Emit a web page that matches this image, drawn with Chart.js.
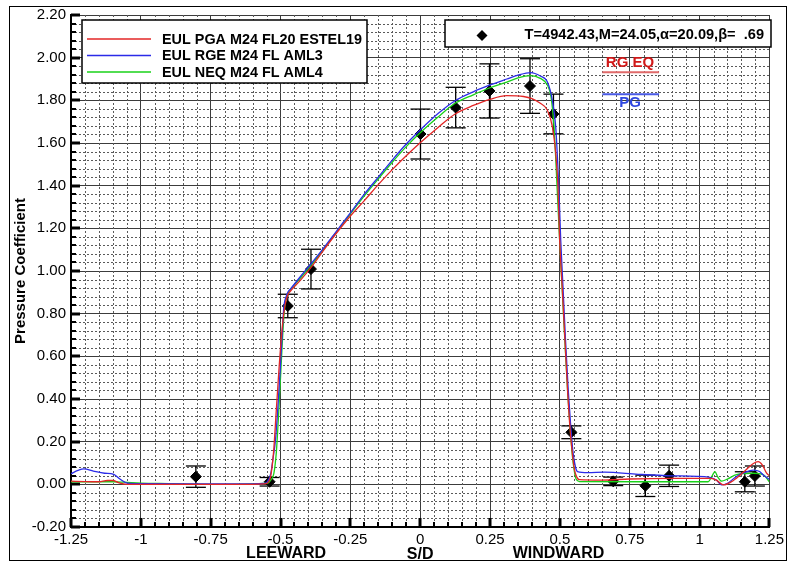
<!DOCTYPE html>
<html>
<head>
<meta charset="utf-8">
<script src="https://cdn.jsdelivr.net/npm/chart.js@4.4.1/dist/chart.umd.min.js"></script>
<style>
html, body { margin: 0; padding: 0; background: #fff; }
#wrap { position: relative; width: 788px; height: 567px; }
</style>
</head>
<body>
<div id="wrap"><canvas id="cpChart"></canvas></div>
<script>
// 计算曲线 (S/D, Cp)
const pgaX = [-1.25,-1.2,-1.15,-1.12,-1.1,-1.08,-1.05,-1.0,-0.9,-0.8,-0.7,-0.6,-0.56,-0.545,-0.535,-0.525,-0.515,-0.505,-0.495,-0.485,-0.475,-0.465,-0.43,-0.39,-0.35,-0.3,-0.25,-0.2,-0.15,-0.1,-0.05,0,0.065,0.125,0.19,0.25,0.31,0.37,0.4,0.43,0.455,0.473,0.485,0.493,0.499,0.508,0.518,0.528,0.537,0.545,0.552,0.56,0.57,0.65,0.75,0.9,1.04,1.06,1.085,1.12,1.16,1.19,1.21,1.225,1.24,1.25];
const pgaY = [0.015,0.013,0.012,0.018,0.018,0.008,0.0,0.0,0.0,0.0,0.0,0.0,0.002,0.008,0.04,0.15,0.35,0.55,0.72,0.83,0.885,0.905,0.955,1.018,1.09,1.177,1.258,1.33,1.405,1.475,1.54,1.601,1.674,1.736,1.776,1.805,1.822,1.818,1.808,1.786,1.755,1.677,1.552,1.40,1.15,0.93,0.68,0.43,0.25,0.14,0.07,0.035,0.022,0.02,0.025,0.028,0.028,0.02,-0.003,0.017,0.06,0.095,0.106,0.09,0.052,0.04];

const rgeX = [-1.25,-1.225,-1.204,-1.17,-1.13,-1.097,-1.075,-1.047,-1.0,-0.8,-0.6,-0.56,-0.548,-0.535,-0.527,-0.518,-0.51,-0.502,-0.495,-0.488,-0.48,-0.473,-0.465,-0.43,-0.39,-0.35,-0.3,-0.25,-0.2,-0.15,-0.1,-0.05,0,0.065,0.125,0.19,0.25,0.31,0.35,0.395,0.43,0.455,0.473,0.485,0.497,0.503,0.511,0.52,0.53,0.539,0.547,0.556,0.563,0.6,0.66,0.78,0.9,1.037,1.06,1.079,1.1,1.132,1.16,1.192,1.215,1.228,1.25];
const rgeY = [0.05,0.065,0.072,0.062,0.052,0.047,0.025,0.005,0.003,0.002,0.002,0.004,0.01,0.05,0.12,0.208,0.35,0.52,0.68,0.833,0.88,0.903,0.915,0.972,1.035,1.10,1.186,1.272,1.36,1.44,1.52,1.595,1.661,1.739,1.798,1.84,1.872,1.9,1.918,1.93,1.914,1.887,1.80,1.677,1.364,1.145,0.93,0.68,0.44,0.27,0.15,0.08,0.06,0.055,0.057,0.047,0.04,0.033,0.02,-0.003,0.005,0.037,0.055,0.067,0.06,0.044,0.023];

const neqX = [-1.25,-1.2,-1.15,-1.1,-1.06,-1.0,-0.9,-0.8,-0.7,-0.6,-0.56,-0.545,-0.535,-0.524,-0.515,-0.508,-0.5,-0.493,-0.486,-0.478,-0.47,-0.465,-0.43,-0.39,-0.35,-0.3,-0.25,-0.2,-0.15,-0.1,-0.05,0,0.065,0.125,0.19,0.25,0.31,0.35,0.395,0.43,0.455,0.468,0.479,0.491,0.499,0.508,0.518,0.528,0.537,0.545,0.552,0.558,0.57,0.8,1.03,1.045,1.055,1.065,1.079,1.1,1.132,1.192,1.228,1.25];
const neqY = [0.012,0.012,0.012,0.012,0.01,0.006,0.003,0.0,0.0,0.002,0.004,0.006,0.02,0.05,0.15,0.3,0.5,0.68,0.82,0.88,0.903,0.912,0.965,1.028,1.095,1.182,1.268,1.352,1.432,1.51,1.583,1.648,1.723,1.786,1.826,1.859,1.885,1.905,1.916,1.903,1.872,1.817,1.677,1.364,1.145,0.92,0.67,0.43,0.26,0.13,0.06,0.025,0.013,0.012,0.012,0.04,0.059,0.035,0.015,0.025,0.045,0.052,0.045,0.012];

// 试验数据 + 误差
const expX = [-0.803,-0.539,-0.474,-0.391,0.001,0.127,0.248,0.393,0.477,0.541,0.691,0.806,0.891,1.162,1.198];
const expY = [0.036,0.012,0.836,1.009,1.642,1.766,1.844,1.867,1.736,0.244,0.014,-0.007,0.04,0.012,0.039];
const expErr = [0.05,0.02,0.055,0.093,0.117,0.095,0.127,0.128,0.093,0.03,0.02,0.05,0.05,0.047,0.047];

const seriesLabels = ['EUL PGA M24 FL20 ESTEL19', 'EUL RGE M24 FL AML3', 'EUL NEQ M24 FL AML4'];
const expLabel = 'T=4942.43,M=24.05,\u03b1=20.09,\u03b2=  .69';

const FONT = '"Liberation Sans", Arial, Helvetica, sans-serif';
const RED = '#e32626', BLUE = '#2b2be8', GREEN = '#19d219';

function pts(xs, ys) { return xs.map((v, i) => ({ x: v, y: ys[i] })); }

function seg(ctx, x1, y1, x2, y2) {
    ctx.beginPath(); ctx.moveTo(x1, y1); ctx.lineTo(x2, y2); ctx.stroke();
}

// 次网格线和内向刻度
const minorGrid = {
    id: 'minorGrid',
    beforeDatasetsDraw(chart) {
        const { ctx, chartArea: a, scales: { x, y } } = chart;
        ctx.save();
        ctx.strokeStyle = '#5a5a5a';
        ctx.lineWidth = 1;
        ctx.setLineDash([2, 2]);
        for (let i = 1; i < 50; i++) {
            if (i % 5 === 0) continue;
            const px = Math.round(x.getPixelForValue(-1.25 + i * 0.05)) + 0.5;
            seg(ctx, px, a.top, px, a.bottom);
        }
        for (let i = 1; i < 60; i++) {
            if (i % 5 === 0) continue;
            const py = Math.round(y.getPixelForValue(-0.2 + i * 0.04)) + 0.5;
            seg(ctx, a.left, py, a.right, py);
        }
        ctx.setLineDash([]);
        ctx.strokeStyle = '#000';
        for (let i = 0; i <= 50; i++) {
            const px = Math.round(x.getPixelForValue(-1.25 + i * 0.05));
            ctx.lineWidth = i % 5 === 0 ? 3 : 2;
            seg(ctx, px, a.bottom, px, a.bottom - (i % 5 === 0 ? 9 : 5));
        }
        for (let i = 0; i <= 60; i++) {
            const py = Math.round(y.getPixelForValue(-0.2 + i * 0.04));
            ctx.lineWidth = i % 5 === 0 ? 3 : 2;
            seg(ctx, a.left, py, a.left + (i % 5 === 0 ? 9 : 5), py);
        }
        ctx.restore();
    }
};

// 误差棒
const errorBars = {
    id: 'errorBars',
    beforeDatasetDraw(chart, args) {
        if (args.index !== 3) return;
        const { ctx, scales: { x, y } } = chart;
        ctx.save();
        ctx.strokeStyle = '#000';
        ctx.lineWidth = 1.3;
        expX.forEach((v, i) => {
            const px = x.getPixelForValue(v);
            const t = y.getPixelForValue(expY[i] + expErr[i]);
            const b = y.getPixelForValue(expY[i] - expErr[i]);
            seg(ctx, px, t, px, b);
            seg(ctx, px - 10, t, px + 10, t);
            seg(ctx, px - 10, b, px + 10, b);
        });
        ctx.restore();
    }
};

// 图例、标注、外框
const overlay = {
    id: 'overlay',
    afterDraw(chart) {
        const { ctx, scales: { x, y } } = chart;
        const ds = chart.data.datasets;
        ctx.save();
        // 左上图例
        ctx.fillStyle = '#fff';
        ctx.fillRect(82, 20, 285, 63);
        ctx.strokeStyle = '#000';
        ctx.lineWidth = 1.5;
        ctx.strokeRect(82, 20, 285, 63);
        ctx.font = 'bold 14.4px ' + FONT;
        ctx.textBaseline = 'middle';
        ctx.textAlign = 'left';
        [39, 55.5, 72].forEach((ly, i) => {
            ctx.strokeStyle = ds[i].borderColor;
            ctx.lineWidth = 1.5;
            seg(ctx, 87, ly, 151, ly);
            ctx.fillStyle = '#000';
            ctx.fillText(ds[i].label, 162, ly + 1);
        });
        // 右上图例
        ctx.fillStyle = '#fff';
        ctx.fillRect(445, 20, 326, 27);
        ctx.strokeStyle = '#000';
        ctx.lineWidth = 1.5;
        ctx.strokeRect(445, 20, 326, 27);
        ctx.fillStyle = '#000';
        ctx.beginPath();
        ctx.moveTo(482, 30); ctx.lineTo(487.5, 35.5); ctx.lineTo(482, 41); ctx.lineTo(476.5, 35.5);
        ctx.closePath(); ctx.fill();
        ctx.font = 'bold 14.6px ' + FONT;
        ctx.textAlign = 'right';
        ctx.fillText(ds[3].label, 764, 34.5);
        // RG EQ / PG 标注
        const l1 = x.getPixelForValue(0.652), l2 = x.getPixelForValue(0.855), cx = x.getPixelForValue(0.751);
        ctx.font = 'bold 15px ' + FONT;
        ctx.textAlign = 'center';
        ctx.fillStyle = '#d01818';
        ctx.fillText('RG EQ', cx, y.getPixelForValue(1.974));
        ctx.strokeStyle = '#e06a6a';
        ctx.lineWidth = 2;
        seg(ctx, l1, y.getPixelForValue(1.932), l2, y.getPixelForValue(1.932));
        ctx.strokeStyle = '#4a5ae6';
        seg(ctx, l1, y.getPixelForValue(1.828), l2, y.getPixelForValue(1.828));
        ctx.fillStyle = '#3048e0';
        ctx.fillText('PG', cx, y.getPixelForValue(1.789));
        // 横轴说明
        ctx.fillStyle = '#000';
        ctx.font = 'bold 16px ' + FONT;
        ctx.fillText('LEEWARD', x.getPixelForValue(-0.48), 554);
        ctx.fillText('WINDWARD', x.getPixelForValue(0.495), 554);
        // 外框
        ctx.strokeStyle = '#000';
        ctx.lineWidth = 1;
        ctx.strokeRect(9.5, 6.5, 777, 554);
        ctx.restore();
    }
};

const ctx = document.getElementById('cpChart').getContext('2d');
const cpChart = new Chart(ctx, {
    type: 'scatter',
    data: {
        datasets: [
            { label: seriesLabels[0], data: pts(pgaX, pgaY), showLine: true, borderColor: RED, borderWidth: 1.3, pointRadius: 0, cubicInterpolationMode: 'monotone' },
            { label: seriesLabels[1], data: pts(rgeX, rgeY), showLine: true, borderColor: BLUE, borderWidth: 1.3, pointRadius: 0, cubicInterpolationMode: 'monotone' },
            { label: seriesLabels[2], data: pts(neqX, neqY), showLine: true, borderColor: GREEN, borderWidth: 1.3, pointRadius: 0, cubicInterpolationMode: 'monotone' },
            { label: expLabel, data: pts(expX, expY), showLine: false, pointStyle: 'rectRot', pointRadius: 5.5, backgroundColor: '#000', borderColor: '#000', borderWidth: 1 }
        ]
    },
    options: {
        responsive: true,
        maintainAspectRatio: false,
        animation: false,
        layout: { padding: { top: 15, right: 15, left: 0, bottom: 0 } },
        plugins: { legend: { display: false }, tooltip: { enabled: false } },
        scales: {
            x: {
                type: 'linear',
                min: -1.25,
                max: 1.25,
                afterFit: s => { s.height = 40; },
                ticks: {
                    stepSize: 0.25,
                    color: '#000',
                    padding: 4,
                    font: { family: FONT, size: 15 },
                    callback: v => String(Math.round(v * 100) / 100)
                },
                grid: { color: '#3c3c3c', lineWidth: 1, drawTicks: false },
                border: { color: '#000', width: 2 },
                title: { display: true, text: 'S/D', color: '#000', font: { family: FONT, size: 16, weight: 'bold' }, padding: { top: 0, bottom: 3 } }
            },
            y: {
                min: -0.2,
                max: 2.2,
                afterFit: s => { s.width = 71; },
                ticks: {
                    stepSize: 0.2,
                    color: '#000',
                    padding: 5,
                    font: { family: FONT, size: 15 },
                    callback: v => v.toFixed(2)
                },
                grid: { color: '#3c3c3c', lineWidth: 1, drawTicks: false },
                border: { color: '#000', width: 2 },
                title: { display: true, text: 'Pressure Coefficient', color: '#000', font: { family: FONT, size: 15, weight: 'bold' }, padding: { top: 12, bottom: 0 } }
            }
        }
    },
    plugins: [minorGrid, errorBars, overlay]
});
</script>
</body>
</html>
